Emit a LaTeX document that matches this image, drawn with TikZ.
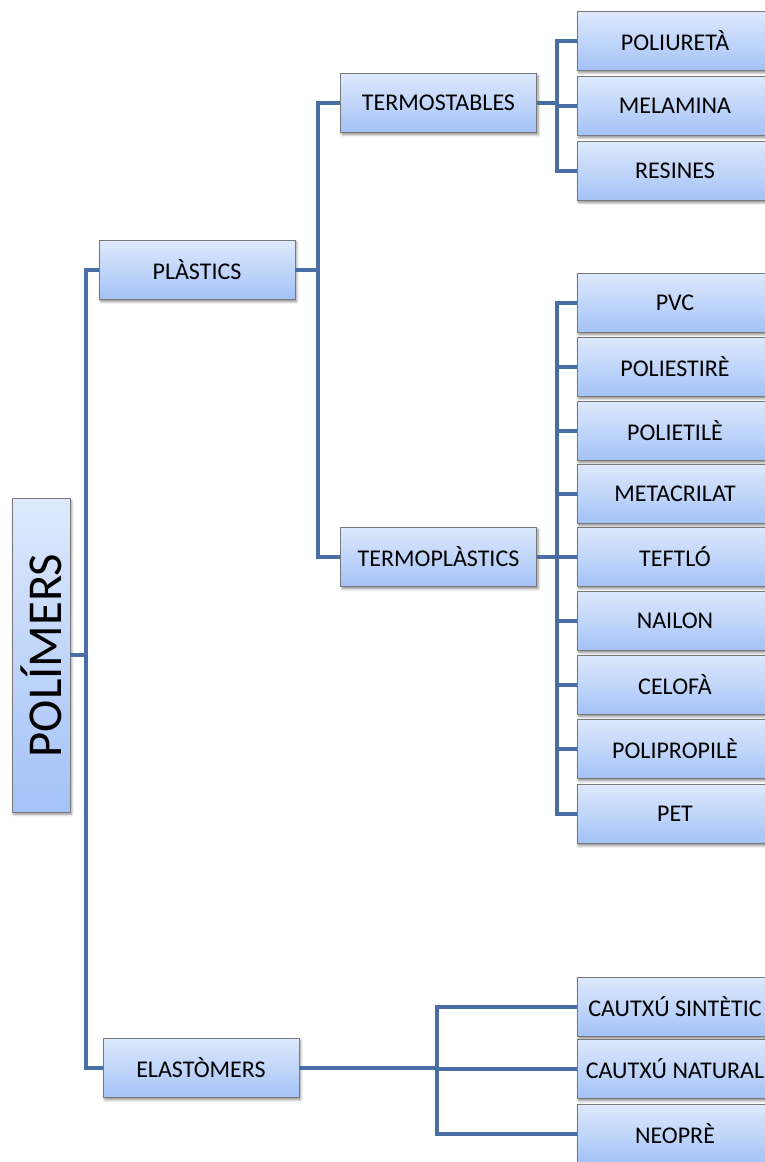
\documentclass[tikz,border=0pt]{standalone}
\usepackage{fontspec}
\setmainfont{Carlito}
\usetikzlibrary{shadows.blur}
\definecolor{boxtop}{RGB}{222,233,252}
\definecolor{boxbot}{RGB}{163,194,247}
\definecolor{boxline}{RGB}{120,120,120}
\definecolor{conncol}{RGB}{72,110,165}
\tikzset{
  box/.style={draw=boxline, line width=0.6pt, top color=boxtop, bottom color=boxbot,
    minimum width=147pt, minimum height=44.5pt, inner sep=0pt,
    font=\fontsize{18pt}{20pt}\selectfont,
    blur shadow={shadow xshift=1.2pt, shadow yshift=-1.5pt, shadow blur steps=4, shadow opacity=45}},
  leaf/.style={box},
  conn/.style={draw=conncol, line width=3pt, line join=miter},
}
\begin{document}
\begin{tikzpicture}[x=0.75pt,y=-0.75pt]
\useasboundingbox (0,0) rectangle (764,1162);
% root
\node[box, minimum width=43.5pt, minimum height=235pt] (pol) at (41,655.5)
  {\rotatebox{90}{\fontsize{36.5pt}{40pt}\selectfont POLÍMERS}};
% level 1
\node[box] (pla) at (197,270) {PLÀSTICS};
\node[box] (ela) at (201,1068) {ELASTÒMERS};
% level 2
\node[box] (tst) at (438.5,103) {TERMOSTABLES};
\node[box] (tpl) at (438.5,557) {TERMOPLÀSTICS};
% leaves of termostables
\node[leaf] (poliu) at (675,41) {POLIURETÀ};
\node[leaf] (mela) at (675,106) {MELAMINA};
\node[leaf] (resi) at (675,171) {RESINES};
% leaves of termoplastics
\node[leaf] (pvc) at (675,303) {PVC};
\node[leaf] (pest) at (675,367) {POLIESTIRÈ};
\node[leaf] (pet1) at (675,431) {POLIETILÈ};
\node[leaf] (meta) at (675,494) {METACRILAT};
\node[leaf] (tef) at (675,557) {TEFTLÓ};
\node[leaf] (nai) at (675,621) {NAILON};
\node[leaf] (celo) at (675,685) {CELOFÀ};
\node[leaf] (polip) at (675,749) {POLIPROPILÈ};
\node[leaf] (pet) at (675,814) {PET};
% leaves of elastomers
\node[leaf] (csin) at (675,1007) {CAUTXÚ SINTÈTIC};
\node[leaf] (cnat) at (675,1069) {CAUTXÚ NATURAL};
\node[leaf] (neo) at (675,1134) {NEOPRÈ};
% junctions
\coordinate (j1) at (86,655);
\coordinate (j2) at (318,270);
\coordinate (j3) at (557,103);
\coordinate (j4) at (557,557);
\coordinate (j5) at (437,1068);
% connectors
\draw[conn] (pol.east |- j1) -- (j1);
\draw[conn] (j1) |- (pla.west);
\draw[conn] (j1) |- (ela.west);
\draw[conn] (pla.east) -- (j2);
\draw[conn] (j2) |- (tst.west);
\draw[conn] (j2) |- (tpl.west);
\draw[conn] (tst.east) -- (j3);
\foreach \n in {poliu,mela,resi} \draw[conn] (j3) |- (\n.west);
\draw[conn] (tpl.east) -- (j4);
\foreach \n in {pvc,pest,pet1,meta,tef,nai,celo,polip,pet} \draw[conn] (j4) |- (\n.west);
\draw[conn] (ela.east) -- (j5);
\foreach \n in {csin,cnat,neo} \draw[conn] (j5) |- (\n.west);
\end{tikzpicture}
\end{document}
